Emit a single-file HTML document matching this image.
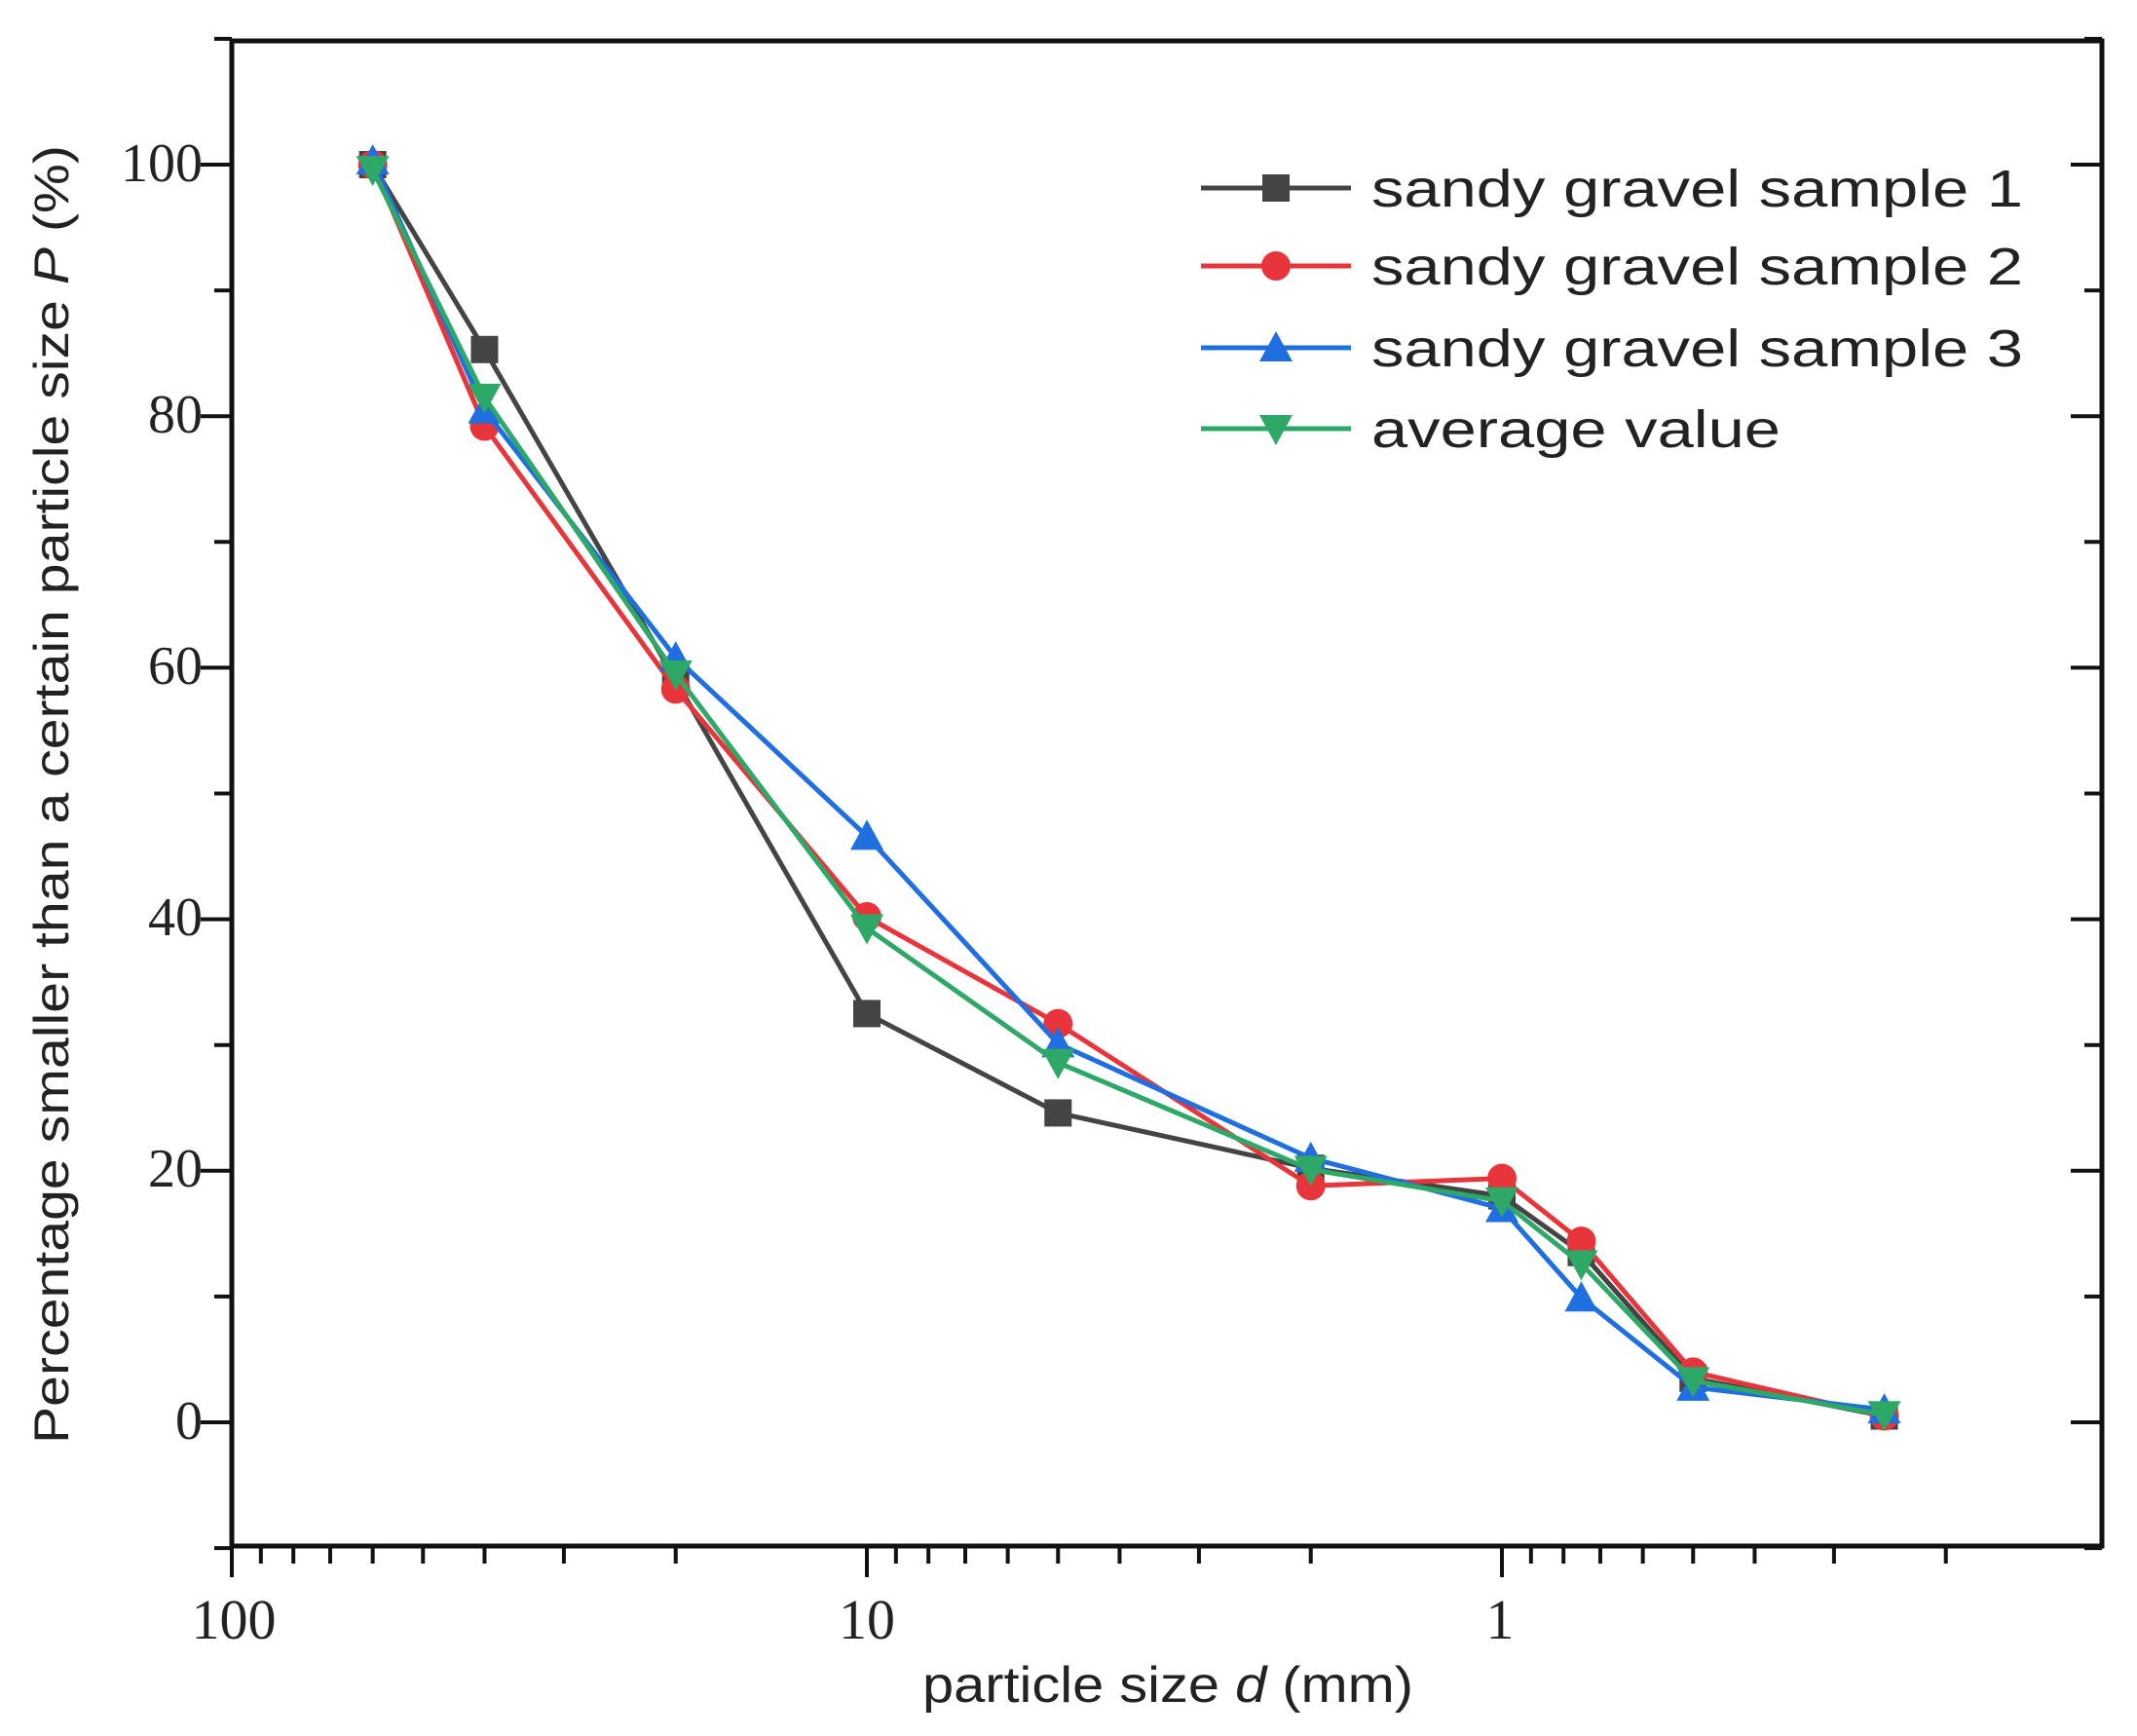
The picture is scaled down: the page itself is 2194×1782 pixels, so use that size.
<!DOCTYPE html>
<html><head><meta charset="utf-8"><style>
html,body{margin:0;padding:0;background:#fff;width:2194px;height:1782px;overflow:hidden}
svg{display:block}
</style></head><body>
<svg id="s" width="2194" height="1782" xmlns="http://www.w3.org/2000/svg">
<rect width="2194" height="1782" fill="#fff"/>
<g id="ticks" stroke="#111" stroke-width="4"></g>
<rect x="238" y="42" width="1920" height="1545" fill="none" stroke="#111" stroke-width="5"/>
<g id="data"></g>
<g font-family="Liberation Serif, serif" font-size="56" fill="#222" text-anchor="end">
<text x="208" y="186">100</text>
<text x="208" y="444">80</text>
<text x="208" y="702">60</text>
<text x="208" y="960">40</text>
<text x="208" y="1218">20</text>
<text x="208" y="1477">0</text>
</g>
<g font-family="Liberation Serif, serif" font-size="58" fill="#222" text-anchor="middle">
<text x="240" y="1682">100</text>
<text x="890" y="1682">10</text>
<text x="1540" y="1682">1</text>
</g>
<text x="947" y="1747" font-family="Liberation Sans, sans-serif" font-size="52" fill="#222" textLength="504" lengthAdjust="spacingAndGlyphs">particle size <tspan font-style="italic">d</tspan> (mm)</text>
<text transform="translate(70,1482) rotate(-90)" font-family="Liberation Sans, sans-serif" font-size="50" fill="#222" textLength="1333" lengthAdjust="spacingAndGlyphs">Percentage smaller than a certain particle size <tspan font-style="italic">P</tspan> (%)</text>
<g font-family="Liberation Sans, sans-serif" font-size="54" fill="#222">
<text x="1408" y="212" textLength="669" lengthAdjust="spacingAndGlyphs">sandy gravel sample 1</text>
<text x="1408" y="292" textLength="669" lengthAdjust="spacingAndGlyphs">sandy gravel sample 2</text>
<text x="1408" y="376" textLength="669" lengthAdjust="spacingAndGlyphs">sandy gravel sample 3</text>
<text x="1408" y="459" textLength="420" lengthAdjust="spacingAndGlyphs">average value</text>
</g>
<g id="legend"></g>
</svg>
<script>
var NS="http://www.w3.org/2000/svg";
function el(p,t,a){var e=document.createElementNS(NS,t);for(var k in a)e.setAttribute(k,a[k]);p.appendChild(e);return e;}
var X=function(d){return 238+(2-Math.log10(d))*652;};
var Y=function(v){return 169+(100-v)*12.91;};
var tk=document.getElementById('ticks');
// y ticks
for(var v=-10;v<=110;v+=10){var y=Y(v);var maj=(v%20==0);var L=maj?32:18;
 el(tk,'line',{x1:238-L,y1:y,x2:238,y2:y});
 el(tk,'line',{x1:2158-L,y1:y,x2:2158,y2:y});}
// x ticks
var decs=[100,10,1];
[100,10,1,0.1].forEach(function(d){for(var m=1;m<10;m++){var val=d*m/10*10/10;var vv=d/10*m;if(m==1)vv=d;var x=X(m==1?d:d/10*m);if(d==100&&m>1)continue; if(x<238-1||x>2158)continue;var maj=(m==1);el(tk,'line',{x1:x,y1:1587,x2:x,y2:1587+(maj?32:18)});}});
// also minor ticks for 100..10 decade (20..90)
for(var m=2;m<10;m++){var x=X(m*10);el(tk,'line',{x1:x,y1:1587,x2:x,y2:1605});}
var xs=[60,40,20,10,5,2,1,0.75,0.5,0.25];
var S=[
 {c:'#444444',m:'sq',v:[100,85.3,59.0,32.5,24.6,20.2,18.0,13.5,3.5,0.5]},
 {c:'#e8353b',m:'ci',v:[100,79.2,58.3,40.2,31.7,18.8,19.4,14.4,4.0,0.5]},
 {c:'#1f6fe0',m:'tu',v:[100.3,80.5,60.8,46.6,30.1,21.0,17.0,9.9,2.8,1.0]},
 {c:'#2ea866',m:'td',v:[99.6,81.5,59.5,39.3,28.6,20.1,17.6,12.6,3.3,0.6]}];
function mk(g,t,x,y,c){var r=14;
 if(t=='sq')el(g,'rect',{x:x-r,y:y-r,width:2*r,height:2*r,fill:c});
 else if(t=='ci')el(g,'circle',{cx:x,cy:y,r:r+1,fill:c});
 else if(t=='tu')el(g,'polygon',{points:(x)+','+(y-r-3)+' '+(x+r+3)+','+(y+r)+' '+(x-r-3)+','+(y+r),fill:c});
 else el(g,'polygon',{points:(x)+','+(y+r+3)+' '+(x+r+3)+','+(y-r)+' '+(x-r-3)+','+(y-r),fill:c});}
var dg=document.getElementById('data');
S.forEach(function(s){var p=s.v.map(function(v,i){return X(xs[i])+','+Y(v);}).join(' ');
 el(dg,'polyline',{points:p,fill:'none',stroke:s.c,'stroke-width':5,'stroke-linejoin':'round'});
 s.v.forEach(function(v,i){mk(dg,s.m,X(xs[i]),Y(v),s.c);});});
var lg=document.getElementById('legend');var ly=[193,273,357,440];
S.forEach(function(s,i){el(lg,'line',{x1:1233,y1:ly[i],x2:1387,y2:ly[i],stroke:s.c,'stroke-width':5});mk(lg,s.m,1310,ly[i],s.c);});
</script>
</body></html>
